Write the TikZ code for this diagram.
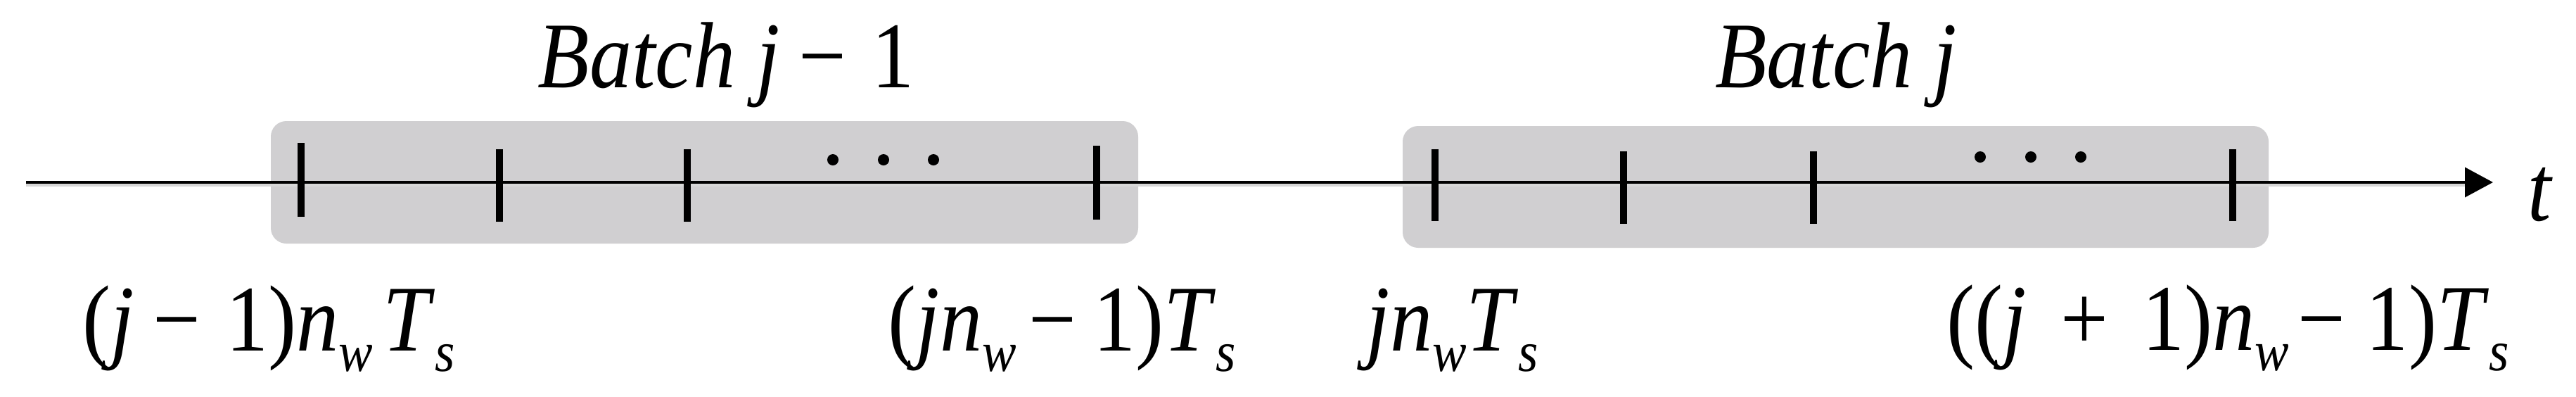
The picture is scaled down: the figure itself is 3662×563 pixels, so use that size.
\documentclass[tikz,border=0pt]{standalone}
\usepackage{fontspec}
\setmainfont{Liberation Serif}
\usetikzlibrary{arrows.meta}
\definecolor{boxgray}{RGB}{208,207,209}
\definecolor{shadowgray}{RGB}{215,215,215}
\newcommand{\sbs}[1]{\raisebox{-0.22em}{\fontsize{23pt}{23pt}\selectfont\itshape #1}}
\begin{document}
\begin{tikzpicture}[x=0.01cm,y=-0.01cm,
  batchbox/.style={fill=boxgray,draw=none,rounded corners=0.22cm},
  tickmark/.style={line width=0.1cm,black},
  lbl/.style={anchor=base,inner sep=0pt,xscale=0.9,font=\fontsize{38pt}{40pt}\selectfont},
  dotmark/.style={fill=black,draw=none}]
\useasboundingbox (0,0) rectangle (3662,563);
% batch boxes
\fill[batchbox] (385,172) rectangle (1618,346);
\fill[batchbox] (1994,179) rectangle (3225,352);
% shadow under axis
\draw[shadowgray,line width=0.9pt] (37,263) -- (3504,263);
% time axis
\coordinate (a0) at (37,259);
\coordinate (a1) at (3544,259);
\draw[line width=1.15pt,-{Triangle[length=0.4cm,width=0.42cm]}] (a0) -- (a1);
% ticks batch j-1
\draw[tickmark] (428,203) -- (428,308);
\draw[tickmark] (710,212) -- (710,315);
\draw[tickmark] (977,212) -- (977,315);
\draw[tickmark] (1559,207) -- (1559,312);
% ticks batch j
\draw[tickmark] (2040,212) -- (2040,314);
\draw[tickmark] (2308,215) -- (2308,318);
\draw[tickmark] (2578,215) -- (2578,318);
\draw[tickmark] (3174,212) -- (3174,314);
% dots
\foreach \x in {1184,1256,1327} \fill[dotmark] (\x,227) circle (0.08cm);
\foreach \x in {2815,2887,2958} \fill[dotmark] (\x,223) circle (0.08cm);
% labels
\node[lbl] (b1) at (1032,124) {\textit{Batch j}\hspace{0.22em}−\hspace{0.3em}1};
\node[lbl] (b2) at (2610,124) {\textit{Batch j}};
\node[lbl,anchor=base west] (t) at (3593,313) {\textit{t}};
\node[lbl] (l1) at (382,498) {(\textit{j}\hspace{0.22em}−\hspace{0.3em}1)\textit{n}\sbs{w}\hspace{0.12em}\textit{T}\sbs{s}};
\node[lbl] (l2) at (1510,498) {(\textit{jn}\sbs{w}\hspace{0.15em}−\hspace{0.2em}1)\textit{T}\sbs{s}};
\node[lbl] (l3) at (2065,498) {\textit{jn}\sbs{w}\textit{T}\sbs{s}};
\node[lbl] (l4) at (3167,497) {((\textit{j}\hspace{0.4em}+\hspace{0.4em}1)\textit{n}\sbs{w}\hspace{0.1em}−\hspace{0.25em}1)\textit{T}\sbs{s}};
\end{tikzpicture}
\end{document}
